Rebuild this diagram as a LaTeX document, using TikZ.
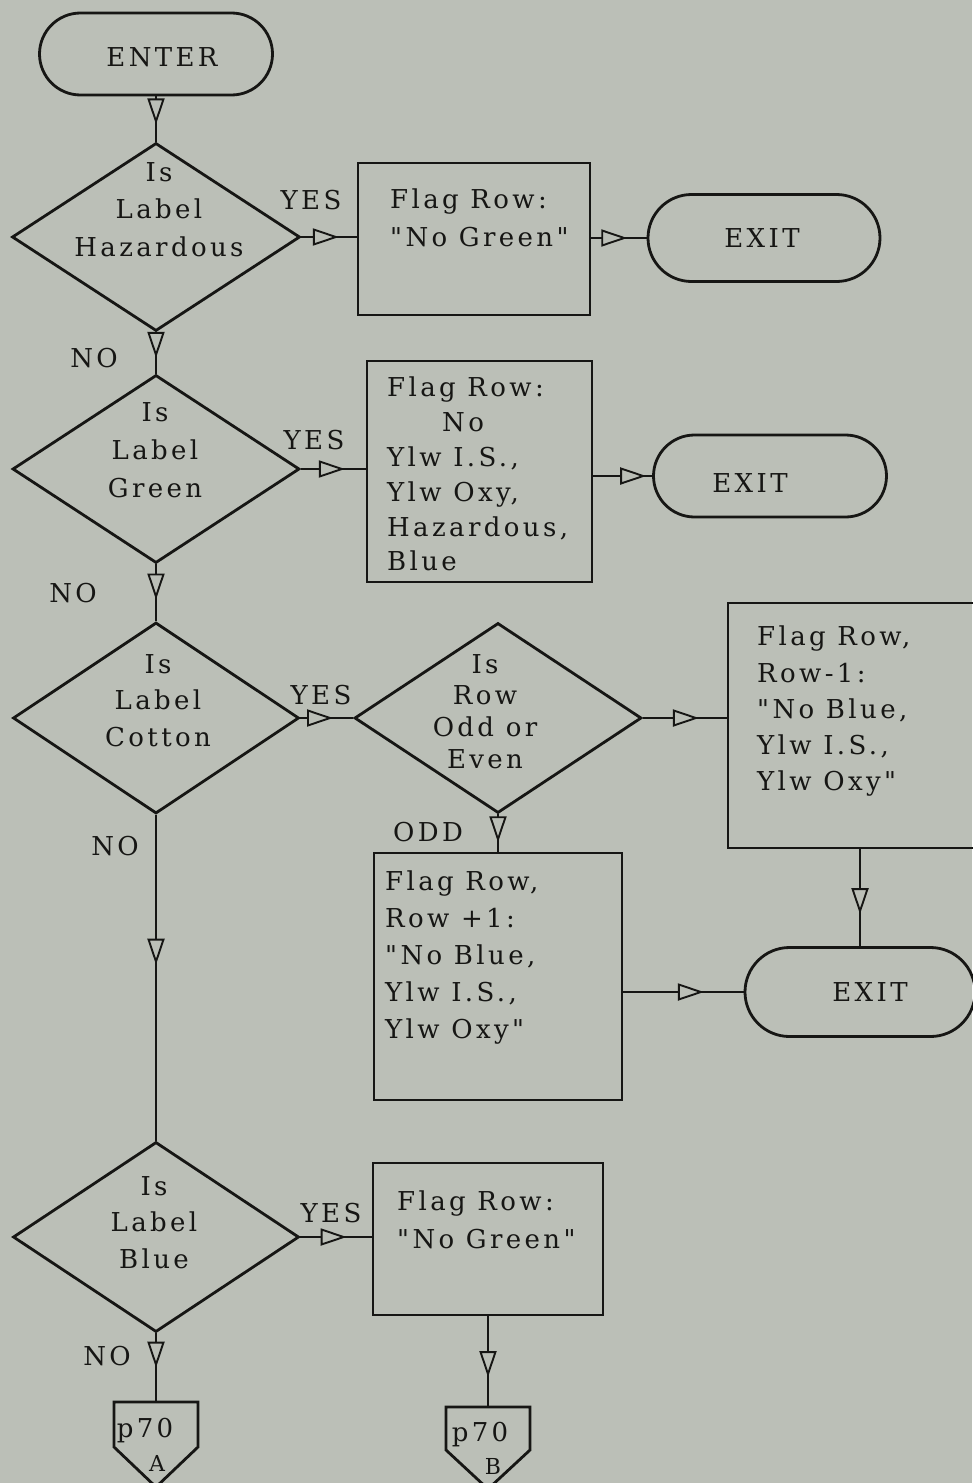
\documentclass[tikz,border=0pt]{standalone}
\usepackage{fontspec}
\setmainfont[LetterSpace=13,Ligatures=TeXOff]{DejaVu Serif}
\usetikzlibrary{shapes.geometric,arrows.meta,decorations.markings}
\definecolor{paper}{RGB}{187,191,183}
\definecolor{ink}{RGB}{22,22,20}

\tikzset{
  flow/.style={draw=ink, line width=2.8pt},
  arr/.style={flow, postaction={decorate}, decoration={markings,
      mark=at position #1 with {\arrow{Triangle[length=26pt,width=17pt,fill=paper,line width=1.9pt]}}}},
  arr/.default=0.65,
  term/.style={flow, rectangle, inner sep=0pt},
  procbox/.style={flow, rectangle, inner sep=0pt},
  dia/.style={flow, diamond, inner sep=0pt},
  lbl/.style={inner sep=0pt, text=ink, font=\fontsize{26}{37}\selectfont,
      text height=19pt, text depth=0pt},
  para/.style={inner sep=0pt, text=ink, font=\fontsize{26}{#1}\selectfont},
  para/.default=37,
  small/.style={inner sep=0pt, text=ink, font=\fontsize{22}{26}\selectfont,
      text height=16pt, text depth=0pt},
}

\begin{document}
\begin{tikzpicture}[x=1pt, y=-1pt, color=ink]
  % sheet
  \fill[paper] (0,0) rectangle (972,1483);
  \useasboundingbox (0,0) rectangle (972,1483);

  % ---------- terminals ----------
  \node[term, minimum width=233pt, minimum height=82pt, rounded corners=41pt] (enter) at (156,54) {};
  \node[lbl] (entert) at (162,57) {ENTER};
  \node[term, minimum width=232pt, minimum height=87pt, rounded corners=43.5pt] (e1) at (764,238) {};
  \node[lbl] (e1t) at (762,238) {EXIT};
  \node[term, minimum width=233pt, minimum height=82pt, rounded corners=41pt] (e2) at (770,476) {};
  \node[lbl] (e2t) at (750,483) {EXIT};
  \node[term, minimum width=230pt, minimum height=89pt, rounded corners=44.5pt] (e3) at (860,992) {};
  \node[lbl] (e3t) at (870,992) {EXIT};

  % ---------- decisions ----------
  \node[dia, minimum width=288pt, minimum height=188pt] (d1) at (156,237) {};
  \node[para=37.5, align=center, anchor=north] (d1t) at (159,162) {Is\\Label\\Hazardous};
  \node[dia, minimum width=287pt, minimum height=188pt] (d2) at (156,469) {};
  \node[para=38, align=center, anchor=north] (d2t) at (155,402) {Is\\Label\\Green};
  \node[dia, minimum width=286pt, minimum height=191pt] (d3) at (156,718) {};
  \node[para=36.5, align=center, anchor=north] (d3t) at (158,654) {Is\\Label\\Cotton};
  \node[dia, minimum width=287pt, minimum height=190pt] (d4) at (498,718) {};
  \node[para=31.7, align=center, anchor=north] (d4t) at (485,654) {Is\\Row\\Odd or\\Even};
  \node[dia, minimum width=286pt, minimum height=190pt] (d5) at (156,1237) {};
  \node[para=36.5, align=center, anchor=north] (d5t) at (154,1176) {Is\\Label\\Blue};

  % ---------- process boxes ----------
  \node[procbox, minimum width=232pt, minimum height=152pt] (b1) at (474,239) {};
  \node[para=38, align=left, anchor=north west] (b1t) at (390,189) {Flag Row:\\"No Green"};
  \node[procbox, minimum width=225pt, minimum height=221pt] (b2) at (479.5,471.5) {};
  \node[para=34.8, align=left, anchor=north west] (b2t) at (387,377)
    {Flag Row:\\\hspace*{55pt}No\\Ylw I.S.,\\Ylw Oxy,\\Hazardous,\\Blue};
  \node[procbox, minimum width=248pt, minimum height=245pt] (b4) at (852,725.5) {};
  \node[para=36.2, align=left, anchor=north west] (b4t) at (757,626)
    {Flag Row,\\Row-1:\\"No Blue,\\Ylw I.S.,\\Ylw Oxy"};
  \node[procbox, minimum width=248pt, minimum height=247pt] (b3) at (498,976.5) {};
  \node[para=37, align=left, anchor=north west] (b3t) at (385,871)
    {Flag Row,\\Row +1:\\"No Blue,\\Ylw I.S.,\\Ylw Oxy"};
  \node[procbox, minimum width=230pt, minimum height=152pt] (b5) at (488,1239) {};
  \node[para=38, align=left, anchor=north west] (b5t) at (397,1191) {Flag Row:\\"No Green"};

  % ---------- off-page connectors ----------
  \coordinate (pa) at (156,1402);
  \draw[flow, line join=miter] (114,1402) -- (198,1402) -- (198,1447) -- (156,1487) -- (114,1447) -- cycle;
  \node[lbl] (pat) at (145,1428) {p70};
  \node[small] (pal) at (157,1463) {A};
  \coordinate (pb) at (488,1407);
  \draw[flow, line join=miter] (446,1407) -- (530,1407) -- (530,1450) -- (488,1489) -- (446,1450) -- cycle;
  \node[lbl] (pbt) at (480,1432) {p70};
  \node[small] (pbl) at (493,1466) {B};

  % ---------- branch labels ----------
  \node[lbl] (yes1) at (311,200) {YES};
  \node[lbl] (yes2) at (314,440) {YES};
  \node[lbl] (yes3) at (321,695) {YES};
  \node[lbl] (yes5) at (331,1213) {YES};
  \node[lbl] (no1) at (94,358) {NO};
  \node[lbl] (no2) at (73,593) {NO};
  \node[lbl] (no3) at (115,846) {NO};
  \node[lbl] (no5) at (107,1356) {NO};
  \node[lbl] (odd) at (428,832) {ODD};

  % ---------- connectors ----------
  \draw[arr=0.62] (enter.south) -- (d1.north);
  \draw[arr=0.68] (d1.east) -- (d1.east -| b1.west);
  \draw[arr] (b1.east |- e1.west) -- (e1.west);
  \draw[arr=0.62] (d1.south) -- (d2.north);
  \draw[arr=0.68] (d2.east) -- (d2.east -| b2.west);
  \draw[arr=0.9] (b2.east |- e2.west) -- (e2.west);
  \draw[arr=0.62] (d2.south) -- (d3.north);
  \draw[arr=0.62] (d3.east) -- (d4.west);
  \draw[arr=0.67] (d4.east) -- (d4.east -| b4.west);
  \draw[arr=0.75] (d4.south) -- (d4.south |- b3.north);
  \draw[arr=0.67] (b4.south -| e3.north) -- (e3.north);
  \draw[arr=0.67] (b3.east |- e3.west) -- (e3.west);
  \draw[arr=0.46] (d3.south) -- (d5.north);
  \draw[arr=0.65] (d5.east) -- (d5.east -| b5.west);
  \draw[arr=0.5] (d5.south) -- (pa);
  \draw[arr=0.67] (b5.south) -- (pb);
\end{tikzpicture}
\end{document}
